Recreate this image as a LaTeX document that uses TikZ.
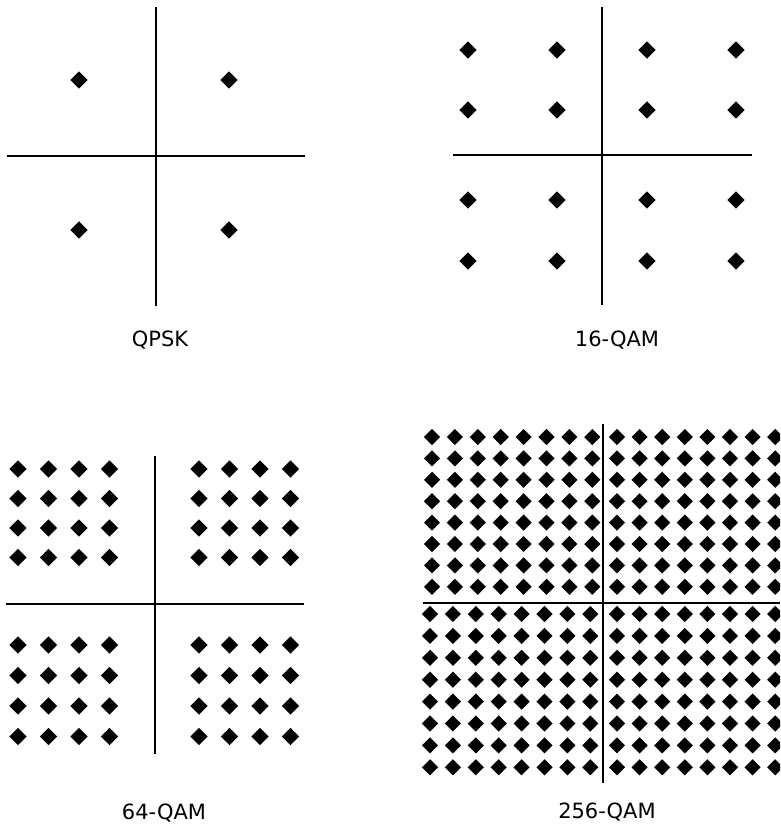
\documentclass[tikz,border=0pt]{standalone}
\usepackage{fontspec}
\setmainfont{DejaVu Sans}

\begin{document}
\begin{tikzpicture}[
    x=1pt,y=-1pt,
    axis/.style={draw=black,line width=1.5pt},
    sym/.style={rectangle,rotate=45,fill=black,draw=none,inner sep=0pt,
      minimum size=12.2pt},
    smallsym/.style={sym,minimum size=11.4pt},
    caption/.style={anchor=base,font=\fontsize{21}{25}\selectfont}
  ]
  \useasboundingbox (0,0) rectangle (780,824);
  \clip (0,0) rectangle (780,824);
  % QPSK
  \draw[axis] (156,7)--(156,306);
  \draw[axis] (7,156)--(305,156);
  \foreach \i/\x in {0/79,1/229}
    \foreach \j/\y in {0/80,1/230}
      \node[sym] (qp-\i-\j) at (\x,\y) {};
  \node[caption] (qpsk) at (160,346.5) {QPSK};
  % 16-QAM
  \draw[axis] (602,7)--(602,305);
  \draw[axis] (453,155)--(752,155);
  \foreach \i/\x in {0/468,1/557,2/647,3/736}
    \foreach \j/\y in {0/50,1/110,2/200,3/261}
      \node[sym] (q16-\i-\j) at (\x,\y) {};
  \node[caption] (qam16) at (617,346.5) {16-QAM};
  % 64-QAM
  \draw[axis] (155,456)--(155,754);
  \draw[axis] (6,604)--(304,604);
  \foreach \i in {0,...,3}
    \foreach \j in {0,...,3} {
      \node[sym] (ul-\i-\j) at ({18+30.5*\i},{469+29.5*\j}) {};
      \node[sym] (ur-\i-\j) at ({199+30.5*\i},{469+29.5*\j}) {};
      \node[sym] (ll-\i-\j) at ({18+30.5*\i},{645+30.5*\j}) {};
      \node[sym] (lr-\i-\j) at ({199+30.5*\i},{645+30.5*\j}) {};
    }
  \node[caption] (qam64) at (164,819) {64-QAM};
  % 256-QAM
  \draw[axis] (603,424)--(603,783);
  \draw[axis] (423,603)--(780,603);
  \foreach \i in {0,...,7}
    \foreach \j in {0,...,7} {
      \node[smallsym] (a-\i-\j) at ({432+22.9*\i},{437+21.4*\j}) {};
      \node[smallsym] (b-\i-\j) at ({617+22.6*\i},{437+21.4*\j}) {};
      \node[smallsym] (c-\i-\j) at ({430+22.9*\i},{614+21.9*\j}) {};
      \node[smallsym] (d-\i-\j) at ({617+22.6*\i},{614+21.9*\j}) {};
    }
  \node[caption] (qam256) at (607,818.5) {256-QAM};
\end{tikzpicture}
\end{document}
